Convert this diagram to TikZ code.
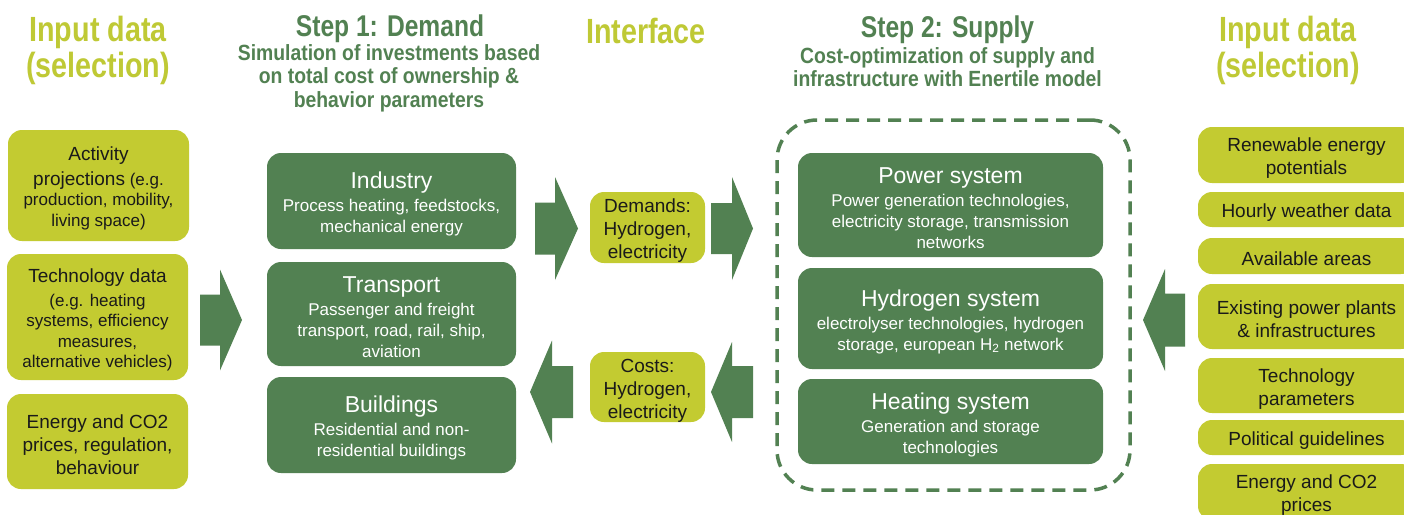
\documentclass[tikz,border=0pt]{standalone}
\usepackage{fontspec}
\setmainfont{Liberation Sans}
\newfontfamily\headfont{Liberation Sans}[FakeStretch=0.82]
\newfontfamily\subfont{Liberation Sans}[FakeStretch=0.88]
\definecolor{dgreen}{HTML}{528152}
\definecolor{limec}{HTML}{C3CB31}
\definecolor{limetxt}{HTML}{BFC935}
\definecolor{inktxt}{HTML}{1A1A1A}
\newcommand\szBig{\fontsize{19}{23}\selectfont}
\newcommand\szSmall{\fontsize{17}{20.5}\selectfont}
\newcommand\szTitle{\fontsize{23}{26}\selectfont}
\newcommand\szBody{\fontsize{17}{21}\selectfont}
\newcommand\tstrut[1]{\rule{0pt}{#1}}
\newcommand\blkarrow[6]{% x0 xb xt yc bodyhalf headhalf
  \fill[blockarrow] ({#1},{#4-#5}) -- ({#2},{#4-#5}) -- ({#2},{#4-#6}) -- ({#3},{#4})
   -- ({#2},{#4+#6}) -- ({#2},{#4+#5}) -- ({#1},{#4+#5}) -- cycle;}
\tikzset{
 inbox/.style={fill=limec, rounded corners=14pt, text=inktxt, align=center, inner sep=0pt},
 gbox/.style={fill=dgreen, rounded corners=14pt, text=white, align=center, inner sep=0pt, font=\szBody},
 blockarrow/.style={fill=dgreen, draw=none},
 supplyframe/.style={draw=dgreen, line width=3.5pt, dash pattern=on 13pt off 8pt, rounded corners=40pt, inner sep=0pt},
 limehead/.style={text=limetxt, font=\headfont\bfseries\fontsize{35}{36}\selectfont, align=center},
 stephead/.style={text=dgreen, font=\headfont\bfseries\fontsize{30}{32}\selectfont},
 stepsub/.style={text=dgreen, font=\subfont\bfseries\fontsize{22}{23.5}\selectfont, align=center},
}
\begin{document}
\begin{tikzpicture}[x=1pt, y=-1pt]
\useasboundingbox (0,0) rectangle (1404,514);
\fill[white] (0,0) rectangle (1404,514);
\clip (0,0) rectangle (1404,514);

% headings
\node[limehead] (h1) at (98,50) {Input data\\(selection)};
\node[stephead] (h2) at (390,29) {Step 1: Demand};
\node[stepsub] (h2s) at (389,78) {Simulation of investments based\\on total cost of ownership \&\\behavior parameters};
\node[limehead] (h3) at (646,31) {Interface};
\node[stephead] (h4) at (947.5,29.5) {Step 2: Supply};
\node[stepsub] (h4s) at (947.5,67) {Cost-optimization of supply and\\infrastructure with Enertile model};
\node[limehead] (h5) at (1288,50) {Input data\\(selection)};

% left input boxes
\node[inbox, minimum width=181, minimum height=111, font=\szSmall] (in1) at (98.5,185.5)
 {\tstrut{20pt}{\szBig Activity}\\[4pt]{\szBig projections} (e.g.\\production, mobility,\\living space)};
\node[inbox, minimum width=181, minimum height=126, font=\szSmall] (in2) at (97.5,317)
 {\tstrut{20pt}{\szBig Technology data}\\[3pt](e.g. heating\\systems, efficiency\\measures,\\alternative vehicles)};
\node[inbox, minimum width=181, minimum height=95, font=\szBig] (in3) at (97.5,441.5)
 {\tstrut{20pt}Energy and CO2\\prices, regulation,\\behaviour};

% step 1 boxes
\node[gbox, minimum width=249, minimum height=96] (ind) at (391.5,201)
 {\tstrut{23pt}{\szTitle Industry}\\[2pt]Process heating, feedstocks,\\mechanical energy};
\node[gbox, minimum width=249, minimum height=104] (tra) at (391.5,314)
 {\tstrut{23pt}{\szTitle Transport}\\[2pt]Passenger and freight\\transport, road, rail, ship,\\aviation};
\node[gbox, minimum width=249, minimum height=96] (bui) at (391.5,425)
 {\tstrut{23pt}{\szTitle Buildings}\\[2pt]Residential and non-\\residential buildings};

% interface boxes
\node[inbox, minimum width=115, minimum height=71, font=\szBig] (dem) at (647.5,227.5)
 {\tstrut{20pt}Demands:\\Hydrogen,\\electricity};
\node[inbox, minimum width=115, minimum height=70, font=\szBig] (cos) at (647.5,387)
 {\tstrut{20pt}Costs:\\Hydrogen,\\electricity};

% supply frame and boxes
\node[supplyframe, minimum width=353, minimum height=370] (frame) at (953.5,305) {};
\node[gbox, minimum width=305, minimum height=104] (pow) at (950.5,205)
 {\tstrut{23pt}{\szTitle Power system}\\[2pt]Power generation technologies,\\electricity storage, transmission\\networks};
\node[gbox, minimum width=305, minimum height=101] (hyd) at (950.5,318.5)
 {\tstrut{23pt}{\szTitle Hydrogen system}\\[2pt]electrolyser technologies, hydrogen\\storage, european H\textsubscript{2} network};
\node[gbox, minimum width=305, minimum height=85] (hea) at (950.5,421.5)
 {\tstrut{23pt}{\szTitle Heating system}\\[2pt]Generation and storage\\technologies};

% right input boxes
\begin{scope}[every node/.append style={inbox, minimum width=217, font=\szBig}]
\node[minimum height=56] (r1) at (1306.5,155) {\tstrut{20pt}Renewable energy\\potentials};
\node[minimum height=35] (r2) at (1306.5,209.5) {\tstrut{20pt}Hourly weather data};
\node[minimum height=36] (r3) at (1306.5,256) {\tstrut{20pt}Available areas};
\node[minimum height=65] (r4) at (1306.5,316.5) {\tstrut{20pt}Existing power plants\\\& infrastructures};
\node[minimum height=55] (r5) at (1306.5,385.5) {\tstrut{20pt}Technology\\parameters};
\node[minimum height=35] (r6) at (1306.5,437.5) {\tstrut{20pt}Political guidelines};
\node[minimum height=56] (r7) at (1306.5,492) {\tstrut{20pt}Energy and CO2\\prices};
\end{scope}

% block arrows
\blkarrow{200}{220}{242}{320}{25.5}{50.5}
\blkarrow{535}{555}{578}{228.5}{26}{51.5}
\blkarrow{711}{732}{753}{228.5}{25.5}{51.5}
\blkarrow{573}{552}{530}{392}{26}{51.5}
\blkarrow{753}{732}{711}{392}{26}{50}
\blkarrow{1185}{1165}{1143}{320}{26.5}{51}
\end{tikzpicture}
\end{document}
